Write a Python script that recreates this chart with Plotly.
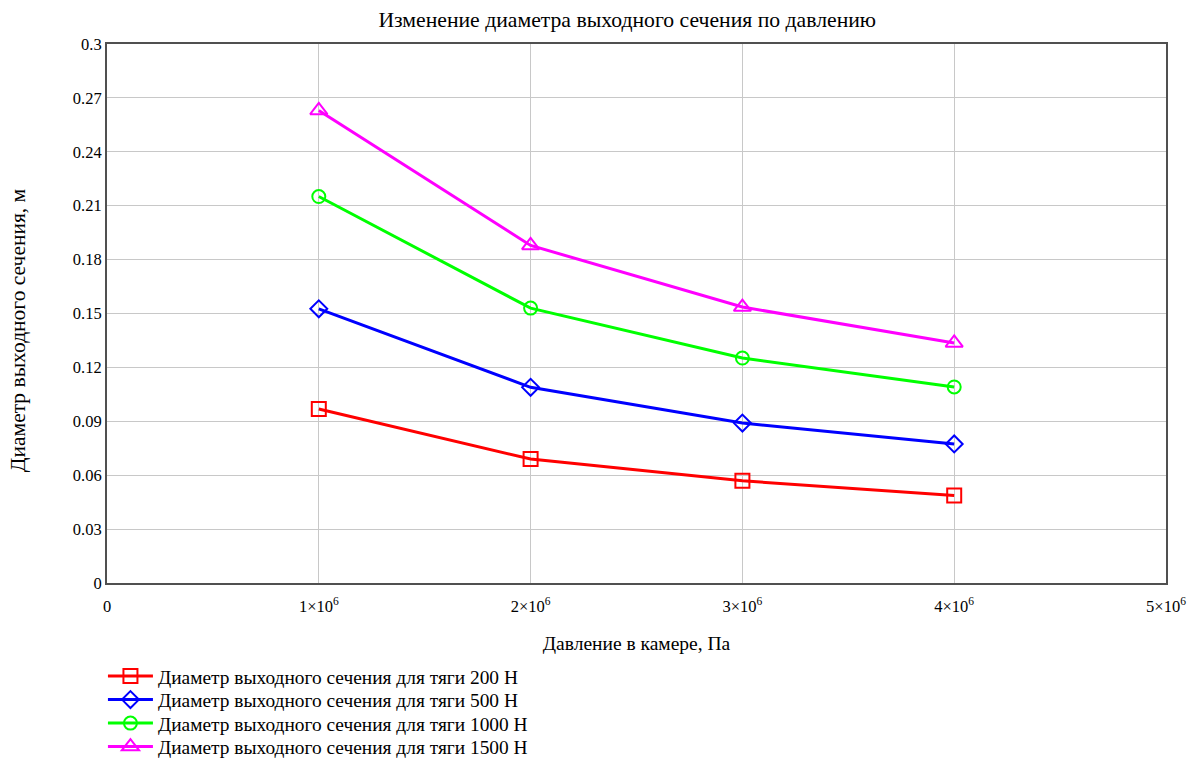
import plotly.graph_objects as go

# Chamber pressure, Pa
pressure = [1e6, 2e6, 3e6, 4e6]

# Exit-section diameter, m, for each thrust level
d_200 = [0.0968, 0.0690, 0.0569, 0.0487]
d_500 = [0.1526, 0.1089, 0.0890, 0.0774]
d_1000 = [0.2151, 0.1530, 0.1252, 0.1091]
d_1500 = [0.2630, 0.1879, 0.1536, 0.1336]

series_names = [
    "Диаметр выходного сечения для тяги 200 Н",
    "Диаметр выходного сечения для тяги 500 Н",
    "Диаметр выходного сечения для тяги 1000 Н",
    "Диаметр выходного сечения для тяги 1500 Н",
]

x_tick_vals = [0, 1e6, 2e6, 3e6, 4e6, 5e6]
x_tick_text = ["0", "1×10<sup>6</sup>", "2×10<sup>6</sup>", "3×10<sup>6</sup>",
               "4×10<sup>6</sup>", "5×10<sup>6</sup>"]
y_tick_vals = [0, 0.03, 0.06, 0.09, 0.12, 0.15, 0.18, 0.21, 0.24, 0.27, 0.3]
y_tick_text = ["0", "0.03", "0.06", "0.09", "0.12", "0.15", "0.18", "0.21",
               "0.24", "0.27", "0.3"]

colors = ["#ff0000", "#0000ff", "#00ff00", "#ff00ff"]
symbols = ["square-open", "diamond-open", "circle-open", "triangle-up-open"]
sizes = [14, 13, 13, 15]

serif = "Liberation Serif, Times New Roman, serif"

# one legend box per series so that rows can be spaced freely
legend_ids = ["legend", "legend2", "legend3", "legend4"]
legend_tops = [657, 680.5, 704, 727.5]  # px from top of the page

fig = go.Figure()
for ys, name, c, s, sz, lid in zip([d_200, d_500, d_1000, d_1500], series_names,
                                   colors, symbols, sizes, legend_ids):
    fig.add_trace(go.Scatter(
        x=pressure, y=ys, name=name, mode="lines+markers",
        line=dict(color=c, width=3),
        marker=dict(symbol=s, size=sz, color=c, line=dict(color=c, width=2)),
        legend=lid,
    ))

H = 762
legend_style = dict(xref="container", yref="container", x=0.086, xanchor="left",
                    yanchor="top", itemwidth=45, bgcolor="rgba(0,0,0,0)",
                    font=dict(family=serif, size=19.4, color="#000000"),
                    itemsizing="trace")
legends = {lid: dict(legend_style, y=(H - top) / H)
           for lid, top in zip(legend_ids, legend_tops)}

fig.update_layout(
    width=1197, height=H,
    paper_bgcolor="white", plot_bgcolor="white",
    margin=dict(l=107, r=31, t=44, b=179, autoexpand=False),
    font=dict(family=serif, size=16, color="#000000"),
    title=dict(text="Изменение диаметра выходного сечения по давлению",
               x=0.524, xanchor="center", y=0.975, yanchor="middle",
               font=dict(family=serif, size=21.7, color="#000000")),
    showlegend=True,
    **legends,
)

fig.add_annotation(
    text="Диаметр выходного сечения, м", textangle=-90,
    xref="paper", yref="paper", x=-0.0841, y=0.469,
    xanchor="center", yanchor="middle", showarrow=False,
    font=dict(family=serif, size=21.5, color="#000000"),
)

fig.update_xaxes(
    range=[0, 5e6], tickmode="array", tickvals=x_tick_vals, ticktext=x_tick_text,
    showgrid=True, gridcolor="#c8c8c8", gridwidth=1, zeroline=False,
    showline=True, linecolor="#505050", linewidth=2, mirror=True,
    ticks="", ticklen=0, ticklabelstandoff=7,
    tickfont=dict(family=serif, size=16.5, color="#000000"),
    title=dict(text="Давление в камере, Па", standoff=22,
               font=dict(family=serif, size=19.5, color="#000000")),
)
fig.update_yaxes(
    range=[0, 0.3], tickmode="array", tickvals=y_tick_vals, ticktext=y_tick_text,
    showgrid=True, gridcolor="#c8c8c8", gridwidth=1, zeroline=False,
    showline=True, linecolor="#505050", linewidth=2, mirror=True,
    ticks="", ticklen=0,
    tickfont=dict(family=serif, size=16.5, color="#000000"),
)

fig.write_html("out.html")
